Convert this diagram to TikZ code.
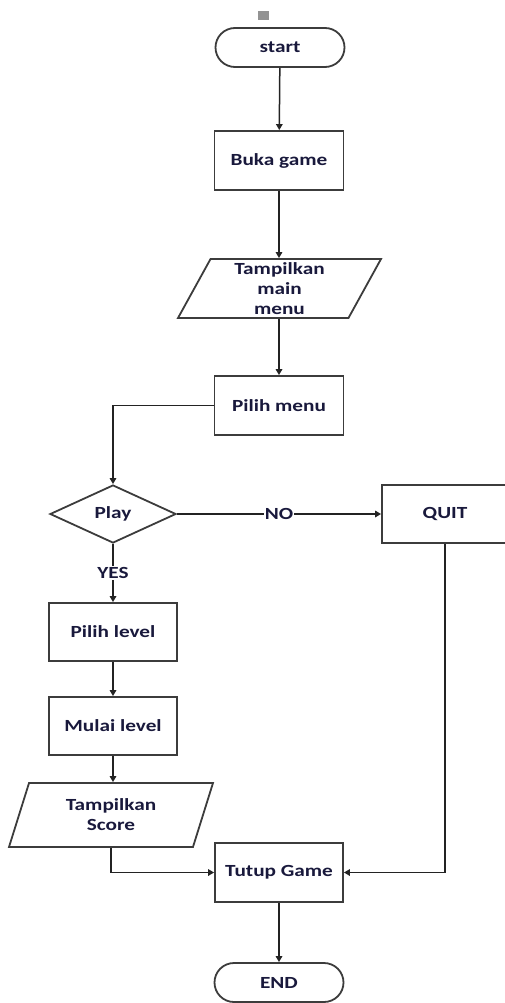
\documentclass[tikz,border=0pt]{standalone}
\usepackage{fontspec}
\setmainfont{Carlito}[FakeStretch=1.25]
\usetikzlibrary{shapes.geometric,shapes.misc,arrows.meta}
\definecolor{ink}{RGB}{25,25,60}
\definecolor{edge}{RGB}{60,60,60}
\definecolor{wire}{RGB}{35,35,35}
\tikzset{
  base/.style={draw=edge, line width=1.8pt, fill=white, text=ink,
    font=\bfseries\fontsize{17}{20}\selectfont, align=center, inner sep=0pt},
  box/.style={base, rectangle, minimum width=#1, minimum height=59pt},
  box/.default=129pt,
  term/.style={base, rounded rectangle, minimum width=129pt, minimum height=39pt},
  io/.style={base, trapezium, trapezium left angle=58, trapezium right angle=122,
    trapezium stretches body, minimum width=#1, minimum height=59pt},
  decide/.style={base, diamond, minimum width=126pt, minimum height=58pt},
  link/.style={draw=wire, line width=1.5pt},
  flow/.style={link, -{Triangle[length=6pt,width=6.5pt]}},
  tag/.style={fill=white, text=ink, inner sep=1pt,
    font=\bfseries\fontsize{17}{20}\selectfont}
}
\begin{document}
\begin{tikzpicture}[x=1pt,y=-1pt]
\useasboundingbox (0,0) rectangle (505,1003);
\clip (0,0) rectangle (505,1003);

\node[fill=gray!85, minimum width=11pt, minimum height=9pt, inner sep=0pt] (mark) at (263,16) {};
\node[term] (start) at (280,47.5) {start};
\node[box] (buka) at (279,160.5) {Buka game};
\node[io=203pt] (menu) at (279.5,288.5) {Tampilkan\\main\\menu};
\node[box] (pilih) at (279,405.5) {Pilih menu};
\node[decide] (play) at (113,514) {Play};
\node[box=126pt, minimum height=58pt] (quit) at (445,514) {QUIT};
\node[box=128pt, minimum height=58pt] (level) at (113,632) {Pilih level};
\node[box=128pt, minimum height=58pt] (mulai) at (113,726) {Mulai level};
\node[io=204pt, minimum height=64pt] (score) at (111,815) {Tampilkan\\Score};
\node[box=128pt] (tutup) at (279,872.5) {Tutup Game};
\node[term] (end) at (279,982.5) {END};

\draw[flow] (start) -- (buka);
\draw[flow] (buka.south) -- (buka.south |- menu.north);
\draw[flow] (menu.south -| pilih) -- (pilih.north);
\draw[flow] (pilih.west) -| (play.north);
\draw[flow] (play.east) -- node[tag] {NO} (quit.west);
\draw[flow] (play.south) -- node[tag] {YES} (level.north);
\draw[flow] (level) -- (mulai);
\draw[flow] (mulai.south) -- (mulai.south |- score.north);
\draw[flow] (score.south) |- (tutup.west);
\draw[flow] (quit.south) |- (tutup.east);
\draw[flow] (tutup) -- (end);
\end{tikzpicture}
\end{document}
